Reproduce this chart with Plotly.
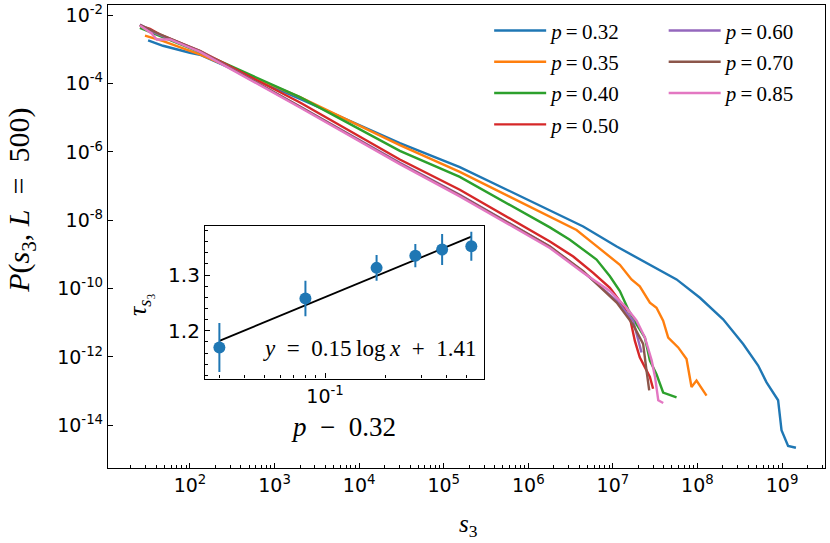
import plotly.graph_objects as go

# ---------------- data ----------------
p_labels = ["0.32", "0.35", "0.40", "0.50", "0.60", "0.70", "0.85"]
colors = ["#1f77b4", "#ff7f0e", "#2ca02c", "#d62728", "#9467bd", "#8c564b", "#e377c2"]

s_p032 = [3.2e1, 4.8e1, 1.0e2, 1.31e2, 2.0e3, 3.03e4, 1.55e5, 1.8e6, 4.46e6, 1.11e7, 2.74e7,
          5.66e7, 1.07e8, 2.01e8, 3.47e8, 5.22e8, 6.56e8, 8.99e8, 9.86e8, 1.18e9, 1.46e9]
P_p032 = [1.83e-3, 1.28e-3, 8.0e-4, 7.0e-4, 3.55e-5, 1.82e-6, 3.6e-7, 2.0e-8, 6.6e-9, 1.7e-9,
          5.0e-10, 1.86e-10, 5.4e-11, 1.26e-11, 2.4e-12, 5.6e-13, 1.8e-13, 5.4e-14, 7.2e-15,
          2.5e-15, 2.2e-15]

s_p035 = [2.94e1, 4.83e1, 1.0e2, 1.31e2, 2.0e3, 3.03e4, 1.55e5, 1.8e6, 3.72e6, 5.85e6, 9.22e6,
          1.21e7, 1.66e7, 2.08e7, 2.74e7, 3.28e7, 3.93e7, 4.51e7, 5.92e7, 7.43e7, 8.51e7,
          9.75e7, 1.28e8]
P_p035 = [2.55e-3, 1.75e-3, 9.1e-4, 7.2e-4, 4.0e-5, 1.58e-6, 2.6e-7, 1.29e-8, 5.2e-9, 2.1e-9,
          8.7e-10, 5.0e-10, 1.86e-10, 1.17e-10, 3.9e-11, 2.75e-11, 1.15e-11, 3.7e-12,
          1.9e-12, 8.7e-13, 1.32e-13, 2.04e-13, 7.4e-14]

s_p040 = [2.56e1, 4.42e1, 1.0e2, 1.31e2, 2.0e3, 3.03e4, 1.55e5, 1.8e6, 3.1e6, 6.41e6, 9.22e6,
          1.21e7, 1.52e7, 1.91e7, 2.39e7, 2.74e7, 3.28e7, 3.93e7, 5.66e7]
P_p040 = [4.3e-3, 2.5e-3, 1.12e-3, 8.3e-4, 4.0e-5, 1.07e-6, 1.86e-7, 6.2e-9, 2.7e-9, 7.1e-10,
          2.3e-10, 8.5e-11, 2.45e-11, 8.9e-12, 3.7e-12, 7.8e-13, 3.1e-13, 9.1e-14, 6.6e-14]

s_p050 = [2.56e1, 3.37e1, 4.42e1, 1.0e2, 1.31e2, 2.0e3, 3.03e4, 1.55e5, 1.8e6, 3.4e6, 5.85e6,
          9.22e6, 1.21e7, 1.59e7, 1.82e7, 2.08e7, 2.39e7, 2.74e7, 2.99e7]
P_p050 = [5.0e-3, 4.0e-3, 2.73e-3, 1.2e-3, 9.1e-4, 2.8e-5, 6.0e-7, 7.8e-8, 2.4e-9, 8.7e-10,
          2.9e-10, 1.05e-10, 4.3e-11, 1.41e-11, 2.95e-12, 9.8e-13, 5.0e-13, 2.6e-13, 1.17e-13]

s_p060 = [2.56e1, 3.85e1, 1.0e2, 1.31e2, 2.0e3, 3.03e4, 1.55e5, 1.8e6, 4.46e6, 1.11e7,
          1.74e7, 2.18e7]
P_p060 = [5.3e-3, 3.05e-3, 1.16e-3, 8.9e-4, 2.14e-5, 4.8e-7, 5.6e-8, 1.7e-9, 3.1e-10,
          4.4e-11, 1.15e-11, 1.35e-12]

s_p070 = [2.56e1, 3.85e1, 1.0e2, 1.31e2, 2.0e3, 3.03e4, 1.55e5, 1.8e6, 4.46e6, 1.11e7,
          1.74e7, 2.28e7, 2.5e7, 2.69e7]
P_p070 = [5.2e-3, 3.24e-3, 1.16e-3, 8.9e-4, 2.09e-5, 4.6e-7, 5.4e-8, 1.7e-9, 3.24e-10,
          3.9e-11, 8.7e-12, 2.4e-12, 4.0e-13, 1.05e-13]

s_p085 = [2.56e1, 3.52e1, 4.04e1, 5.81e1, 1.0e2, 1.31e2, 2.0e3, 3.03e4, 1.55e5, 1.8e6, 4.46e6,
          9.22e6, 1.45e7, 1.91e7, 2.39e7, 2.88e7, 3.15e7, 3.44e7, 3.94e7]
P_p085 = [5.0e-3, 2.92e-3, 1.95e-3, 1.95e-3, 1.12e-3, 8.5e-4, 2.0e-5, 4.4e-7, 5.0e-8, 1.55e-9,
          2.9e-10, 8.5e-11, 2.75e-11, 1.15e-11, 3.7e-12, 7.8e-13, 2.6e-13, 5.4e-14, 4.5e-14]

s_series = [s_p032, s_p035, s_p040, s_p050, s_p060, s_p070, s_p085]
P_series = [P_p032, P_p035, P_p040, P_p050, P_p060, P_p070, P_p085]

# inset: exponent tau vs p - 0.32
inset_x = [0.03, 0.08, 0.18, 0.28, 0.38, 0.53]
inset_tau = [1.170, 1.258, 1.313, 1.335, 1.346, 1.352]
inset_err = [0.044, 0.032, 0.023, 0.021, 0.028, 0.026]
fit_x = [0.03, 0.53]
fit_y = [1.182, 1.369]

x_tickvals = [1e2, 1e3, 1e4, 1e5, 1e6, 1e7, 1e8, 1e9]
x_ticktext = ["10<sup>2</sup>", "10<sup>3</sup>", "10<sup>4</sup>", "10<sup>5</sup>",
              "10<sup>6</sup>", "10<sup>7</sup>", "10<sup>8</sup>", "10<sup>9</sup>"]
y_tickvals = [1e-2, 1e-4, 1e-6, 1e-8, 1e-10, 1e-12, 1e-14]
y_ticktext = ["10<sup>-2</sup>", "10<sup>-4</sup>", "10<sup>-6</sup>", "10<sup>-8</sup>",
              "10<sup>-10</sup>", "10<sup>-12</sup>", "10<sup>-14</sup>"]

# ---------------- figure ----------------
SERIF = "Liberation Serif"
SANS = "DejaVu Sans"

fig = go.Figure()
for i, (s, P) in enumerate(zip(s_series, P_series)):
    fig.add_trace(go.Scatter(
        x=s, y=P, mode="lines",
        line=dict(color=colors[i], width=2.4),
        name="<i>p</i>\u2009=\u2009" + p_labels[i],
        legend="legend" if i < 4 else "legend2",
        legendgroup="g" + str(i),
        xaxis="x", yaxis="y",
    ))

fig.add_trace(go.Scatter(
    x=fit_x, y=fit_y, mode="lines", line=dict(color="black", width=1.8),
    showlegend=False, xaxis="x2", yaxis="y2"))
fig.add_trace(go.Scatter(
    x=inset_x, y=inset_tau, mode="markers",
    marker=dict(color="#1f77b4", size=12),
    error_y=dict(type="data", array=inset_err, color="#1f77b4", thickness=2, width=0),
    showlegend=False, xaxis="x2", yaxis="y2"))

minor_x = [k * 10 ** d for d in range(1, 10) for k in range(2, 10)]
minor_x2 = [0.03, 0.04, 0.05, 0.06, 0.07, 0.08, 0.09, 0.2, 0.3, 0.4, 0.5]
minor_y2 = [1.12 + 0.02 * k for k in range(14)]

def axis_style(fs):
    return dict(showgrid=False, zeroline=False, showline=True, linecolor="black",
                linewidth=1.3, mirror=True, ticks="inside", tickcolor="black",
                tickwidth=1.1, ticklabeloverflow="allow",
                tickfont=dict(family=SANS, size=fs, color="black"))

legend_font = dict(family=SERIF, size=21, color="black")

def ann(text, px, py, size, angle=0):
    return dict(text=text, xref="paper", yref="paper",
                x=(px - 108) / 717, y=(468 - py) / 466,
                xanchor="center", yanchor="middle", textangle=angle, showarrow=False,
                font=dict(family=SERIF, size=size, color="black"))

fig.update_layout(
    width=830, height=543, autosize=False,
    margin=dict(l=108, r=5, t=2, b=75),
    paper_bgcolor="white", plot_bgcolor="white",
    xaxis=dict(type="log", range=[1.031, 9.508], domain=[0, 1], anchor="y",
               tickvals=x_tickvals, ticktext=x_ticktext, ticklen=5,
               minor=dict(tickvals=minor_x, ticks="inside", ticklen=3, tickcolor="black",
                          tickwidth=1, showgrid=False),
               **axis_style(19)),
    yaxis=dict(type="log", range=[-15.25, -1.70], domain=[0, 1], anchor="x",
               tickvals=y_tickvals, ticktext=y_ticktext, ticklen=5, **axis_style(19)),
    xaxis2=dict(type="log", range=[-1.594, -0.213], domain=[0.1353, 0.5244], anchor="y2",
                tickvals=[0.1], ticktext=["10<sup>-1</sup>"], ticklen=5,
                minor=dict(tickvals=minor_x2, ticks="inside", ticklen=3, tickcolor="black",
                           tickwidth=1, showgrid=False),
                **axis_style(19)),
    yaxis2=dict(range=[1.114, 1.389], domain=[0.193, 0.5236], anchor="x2",
                tickvals=[1.2, 1.3], ticktext=["1.2", "1.3"], ticklen=5,
                minor=dict(tickvals=minor_y2, ticks="inside", ticklen=3, tickcolor="black",
                           tickwidth=1, showgrid=False),
                **axis_style(20)),
    legend=dict(x=0.5316, y=0.9886, xanchor="left", yanchor="top", bgcolor="rgba(0,0,0,0)",
                font=legend_font, itemwidth=52, tracegroupgap=1),
    legend2=dict(x=0.775, y=0.9886, xanchor="left", yanchor="top", bgcolor="rgba(0,0,0,0)",
                 font=legend_font, itemwidth=52, tracegroupgap=1),
    annotations=[
        ann("<i>s</i><sub>3</sub>", 468, 526, 25),
        ann("<i>P</i>(<i>s</i><sub>3</sub>, <i>L</i>\u2002=\u2002500)", 21, 199, 30, -90),
        ann("<i>τ</i><sub><i>s</i>₃</sub>", 139, 304, 26, -90),
        ann("<i>p</i>\u2002−\u20020.32", 343, 427, 27),
        ann("<i>y</i>\u2002=\u20020.15\u2009log\u2009<i>x</i>\u2002+\u20021.41", 370, 348, 23),
    ],
)

fig.write_html("out.html", config={"displayModeBar": False},
               post_script="document.body.style.margin='0';")
